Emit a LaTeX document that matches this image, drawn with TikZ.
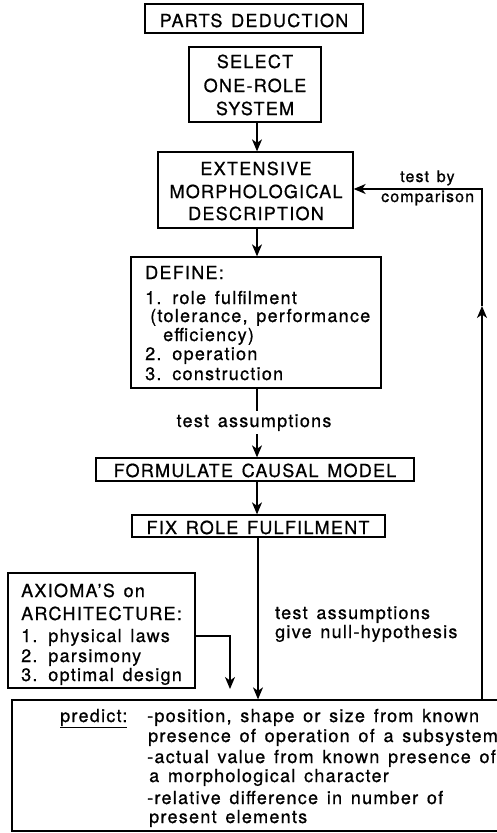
\documentclass[tikz,border=0pt]{standalone}
\usepackage{fontspec}
\setmainfont[LetterSpace=7,WordSpace=1.4,FakeBold=0.8]{TeX Gyre Heros}
\usetikzlibrary{arrows.meta}
\tikzset{
  box/.style={draw, line width=1.3pt, rectangle, inner sep=0pt},
  txt/.style={inner sep=0pt, font=\fontsize{18}{20}\selectfont},
  stxt/.style={inner sep=0pt, anchor=base west, font=\fontsize{16}{18}\selectfont},
  ctxt/.style={txt, anchor=base},
  ltxt/.style={txt, anchor=base west},
  conn/.style={line width=1.3pt},
  arr/.style={line width=1.3pt, -{Stealth[length=12pt,width=10pt,inset=3.5pt]}}
}
\begin{document}
\begin{tikzpicture}[x=1pt,y=-1pt]
\useasboundingbox (0,0) rectangle (497,833);
\clip (0,0) rectangle (497,833);
% boxes
\node[box, minimum width=218pt, minimum height=29pt] (pd) at (254,18.5) {};
\node[box, minimum width=132pt, minimum height=75pt] (sel) at (255,84.5) {};
\node[box, minimum width=195pt, minimum height=76pt] (ext) at (255.5,190) {};
\node[box, minimum width=250pt, minimum height=131pt] (def) at (256,322.5) {};
\node[box, minimum width=318pt, minimum height=23pt] (form) at (255,469.5) {};
\node[box, minimum width=253pt, minimum height=22pt] (fix) at (258.5,526) {};
\node[box, minimum width=187pt, minimum height=115pt] (ax) at (101.5,630.5) {};
\node[box, minimum width=500pt, minimum height=131pt] (pr) at (262,765.5) {};
% texts
\node[ctxt] (pdt) at (254,27) {PARTS DEDUCTION};
\node[ctxt] (sel1) at (255,68) {SELECT};
\node[ctxt] (sel2) at (255,92) {ONE-ROLE};
\node[ctxt] (sel3) at (255,115) {SYSTEM};
\node[ctxt] (ext1) at (256,175) {EXTENSIVE};
\node[ctxt] (ext2) at (256,198) {MORPHOLOGICAL};
\node[ctxt] (ext3) at (256,220) {DESCRIPTION};
\node[ltxt] (def1) at (145,279) {DEFINE:};
\node[ltxt] (def2) at (145,304) {1. role fulfilment};
\node[ltxt] (def3) at (150,322) {(tolerance, performance};
\node[ltxt] (def4) at (163,341) {efficiency)};
\node[ltxt] (def5) at (145,360) {2. operation};
\node[ltxt] (def6) at (145,380) {3. construction};
\node[ctxt] (ta) at (254,427) {test assumptions};
\node[ctxt] (formt) at (255,477) {FORMULATE CAUSAL MODEL};
\node[ctxt] (fixt) at (258,534) {FIX ROLE FULFILMENT};
\node[ltxt] (ax1) at (21,597) {AXIOMA'S on};
\node[ltxt] (ax2) at (21,620) {ARCHITECTURE:};
\node[ltxt] (ax3) at (21,642) {1. physical laws};
\node[ltxt] (ax4) at (21,662) {2. parsimony};
\node[ltxt] (ax5) at (21,681) {3. optimal design};
\node[stxt] (tb1) at (400,182) {test by};
\node[stxt] (tb2) at (381,202) {comparison};
\node[ltxt] (tn1) at (275,619) {test assumptions};
\node[ltxt] (tn2) at (275,638) {give null-hypothesis};
\node[ltxt] (pred) at (60,722) {\underline{predict:}};
\node[ltxt] (p1) at (147,722) {-position, shape or size from known};
\node[ltxt] (p2) at (148,742) {presence of operation of a subsystem};
\node[ltxt] (p3) at (147,763) {-actual value from known presence of};
\node[ltxt] (p4) at (149,782) {a morphological character};
\node[ltxt] (p5) at (147,804) {-relative difference in number of};
\node[ltxt] (p6) at (149,823) {present elements};
% connectors
\coordinate (s1) at (257,122);
\coordinate (fb) at (482,189);
\coordinate (fbmid) at (482,306);
\coordinate (axend) at (230,689);
\draw[arr] (sel.south -| s1) -- (ext.north -| s1);
\draw[arr] (ext.south -| s1) -- (def.north -| s1);
\draw[conn] (def.south -| s1) -- ([yshift=3pt]ta.north -| s1);
\draw[arr] ([yshift=-3pt]ta.south -| s1) -- (form.north -| s1);
\draw[arr] (form.south -| s1) -- (fix.north -| s1);
\draw[arr] ([xshift=1pt]fix.south -| s1) -- ([xshift=1pt]pr.north -| s1);
\draw[arr] ([yshift=-5.5pt]ax.east) -| (axend);
\draw[arr] (pr.north -| fb) -- (fbmid);
\draw[arr] (fbmid) -- (fb) -- (fb -| ext.east);
\end{tikzpicture}
\end{document}
